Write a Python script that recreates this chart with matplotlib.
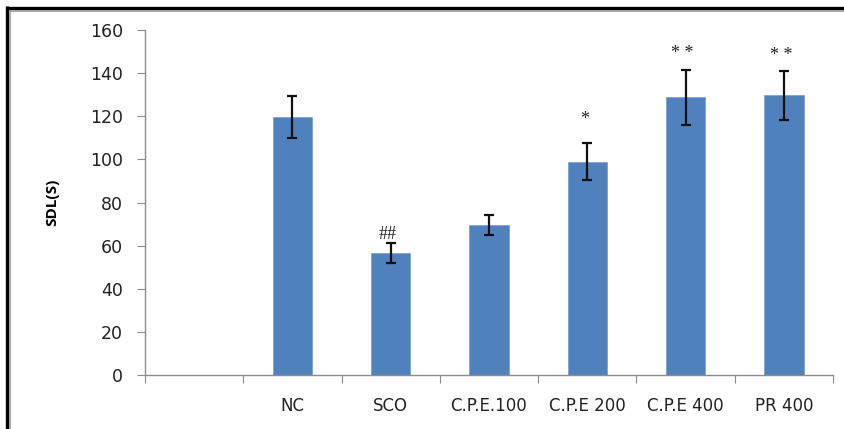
import matplotlib
matplotlib.use("Agg")
import matplotlib.pyplot as plt
from matplotlib.lines import Line2D

# data
groups = ["", "NC", "SCO", "C.P.E.100", "C.P.E 200", "C.P.E 400", "PR 400"]
means = [None, 119.7, 56.7, 69.5, 99.0, 128.8, 129.7]
errors = [None, 9.7, 4.6, 4.5, 8.7, 12.8, 11.3]
marks = ["", "", "##", "", "*", "* *", "* *"]
mark_y = [0, 0, 65, 0, 118.5, 149, 148]

W, H = 845, 429
fig = plt.figure(figsize=(W / 100, H / 100), dpi=100)
ax = fig.add_axes([145 / W, 1 - 375 / H, (833 - 145) / W, (375 - 30) / H])

xs = [i for i, m in enumerate(means) if m is not None]
vals = [means[i] for i in xs]
errs = [errors[i] for i in xs]

ax.bar(xs, vals, width=0.4, color="#4F81BD", edgecolor="#7FA3D3", linewidth=0.6, zorder=2)
ax.errorbar(xs, vals, yerr=errs, fmt="none", ecolor="#111111", elinewidth=1.6,
            capsize=3.8, capthick=1.6, zorder=3)

for i in xs:
    if marks[i]:
        ax.text(i - 0.03, mark_y[i], marks[i], ha="center", va="center",
                fontsize=13, family="Liberation Serif", color="#222222")

ax.set_xlim(-0.5, len(groups) - 0.5)
ax.set_ylim(0, 160)
ax.set_yticks(range(0, 161, 20))
ax.set_xticks([i + 0.5 for i in range(-1, len(groups))])
ax.set_xticklabels([])
ax.set_xticks(range(len(groups)), minor=True)
ax.set_xticklabels(groups, minor=True, fontsize=12, family="DejaVu Sans", color="#222222")
ax.tick_params(axis="x", which="minor", length=0, pad=16)
ax.tick_params(axis="x", which="major", length=6, color="#8C8C8C")
ax.tick_params(axis="y", length=6, color="#8C8C8C", labelsize=12.5, pad=10,
               labelcolor="#222222")
for lab in ax.get_yticklabels():
    lab.set_family("DejaVu Sans")

for s in ["top", "right"]:
    ax.spines[s].set_visible(False)
for s in ["left", "bottom"]:
    ax.spines[s].set_color("#8C8C8C")
    ax.spines[s].set_linewidth(1.0)

ax.set_ylabel("SDL(S)", fontsize=11, fontweight="bold", family="Open Sans")
ax.yaxis.set_label_coords(-0.125, 0.5)

# double frame round the chart, cut off at right and bottom
def px_line(x0, y0, x1, y1, color, lw):
    fig.add_artist(Line2D([x0 / W, x1 / W], [1 - y0 / H, 1 - y1 / H],
                          transform=fig.transFigure, color=color, linewidth=lw,
                          solid_capstyle="butt"))

px_line(7.5, 6, 7.5, H, "black", 2.4)
px_line(6, 7.5, W, 7.5, "black", 2.4)
px_line(10.5, 9.5, 10.5, H, "#9A9A9A", 1.2)
px_line(9.5, 10.5, W, 10.5, "#9A9A9A", 1.2)

fig.savefig("out.png", dpi=100)
